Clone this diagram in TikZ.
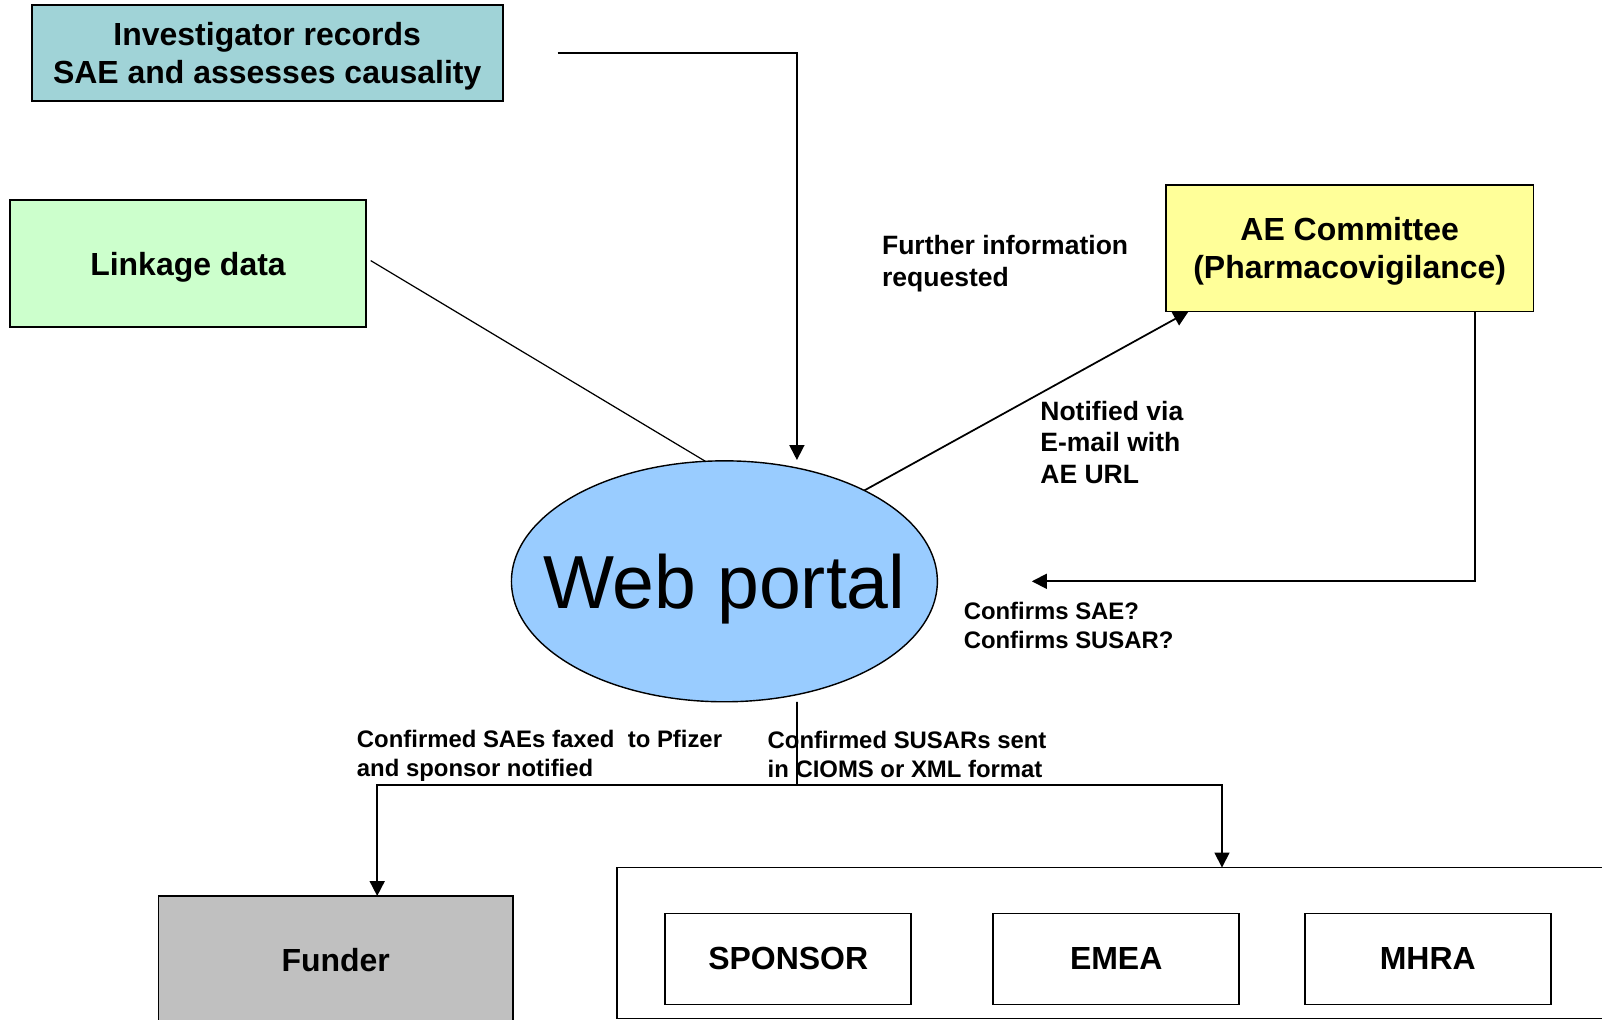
\documentclass[tikz,border=0pt]{standalone}
\usepackage{fontspec}
\setmainfont{Liberation Sans}
\usetikzlibrary{positioning,arrows.meta,shapes.geometric}

\definecolor{invteal}{RGB}{160,211,215}
\definecolor{linkgreen}{RGB}{204,255,204}
\definecolor{aeyellow}{RGB}{255,255,153}
\definecolor{portalblue}{RGB}{153,204,255}
\definecolor{fundgrey}{RGB}{192,192,192}

\begin{document}
\begin{tikzpicture}[x=0.02cm, y=-0.02cm,
        box/.style={rectangle, draw=black, line width=1pt, inner sep=0pt, outer sep=0pt, align=center, text=black, font=\fontsize{18.2}{21.6}\selectfont\bfseries},
        tealbox/.style={box, fill=invteal},
        greenbox/.style={box, fill=linkgreen},
        yellowbox/.style={box, fill=aeyellow},
        greybox/.style={box, fill=fundgrey},
        whitebox/.style={box, fill=white},
        bluedisc/.style={ellipse, draw=black, line width=0.8pt, fill=portalblue, inner sep=0pt, outer sep=0pt, minimum width=8.52cm, minimum height=4.82cm, text depth=0pt, font=\fontsize{42.8}{50}\selectfont},
        note/.style={align=left, inner sep=0pt, font=\fontsize{15.1}{18}\selectfont\bfseries},
        smallnote/.style={align=left, inner sep=0pt, font=\fontsize{13.6}{16.5}\selectfont\bfseries},
        flow/.style={-{Triangle[length=0.3cm, width=0.3cm]}, line width=1pt},
        link/.style={line width=0.7pt}
    ]
    \useasboundingbox (0,0) rectangle (1602,1019);
    \clip (0,0) rectangle (1602,1019);

    % Sources
    \node[tealbox, minimum width=9.42cm, minimum height=1.92cm, text depth=0pt] (inv) at (267.2,53.1) {Investigator records\\SAE and assesses causality};
    \node[greenbox, minimum width=7.11cm, minimum height=2.54cm, text depth=0pt] (linkage) at (188,263.6) {Linkage data};
    \node[yellowbox, minimum width=7.35cm, minimum height=2.53cm, text depth=-1.9pt] (ae) at (1349.7,248.3) {AE Committee\\(Pharmacovigilance)};
    \node[bluedisc] (portal) at (724.4,581.3) {\makebox[0pt]{Web portal}};

    % Receivers
    \node[greybox, minimum width=7.09cm, minimum height=2.56cm] (funder) at (335.7,960) {Funder};
    \node[whitebox, minimum width=20.46cm, minimum height=3.02cm] (regs) at (1128.5,943) {};
    \node[whitebox, minimum width=4.92cm, minimum height=1.82cm] (sponsor) at (788.2,958.9) {SPONSOR};
    \node[whitebox, minimum width=4.92cm, minimum height=1.82cm] (emea) at (1116.2,958.9) {EMEA};
    \node[whitebox, minimum width=4.92cm, minimum height=1.82cm] (mhra) at (1427.8,958.9) {MHRA};

    % Labels
    \node[note, anchor=west] (further) at (881.7,263.5) {Further information\\requested};
    \node[note, anchor=west] (notified) at (1040,442.4) {Notified via\\E-mail with\\AE URL};
    \node[smallnote, anchor=west] (confirms) at (963.4,625.8) {Confirms SAE?\\Confirms SUSAR?};
    \node[smallnote, anchor=west] (faxed) at (356.6,756) {Confirmed SAEs faxed\ \ to Pfizer\\and sponsor notified};
    \node[smallnote, anchor=west] (susars) at (767.3,754) {Confirmed SUSARs sent\\in CIOMS or XML format};

    % Into the portal
    \coordinate (invIn) at (796.9,460);
    \draw[flow] ([xshift=1.1cm]inv.east) -| (invIn);
    \draw[link] ([xshift=0.1cm, yshift=0.06cm]linkage.east) -- (portal.99);

    % Committee loop
    \draw[flow] (portal.33) -- ([xshift=0.45cm]ae.south west);
    \draw[flow] ([xshift=2.51cm]ae.south) |- ([xshift=1.89cm]portal.east);

    % Out to funder and regulators
    \coordinate (split) at (796.9,784.7);
    \draw[line width=1pt] ([xshift=1.45cm]portal.south) -- (split);
    \draw[flow] (split) -| ([xshift=0.83cm]funder.north);
    \draw[flow] (split) -| ([xshift=1.87cm]regs.north);
\end{tikzpicture}
\end{document}
